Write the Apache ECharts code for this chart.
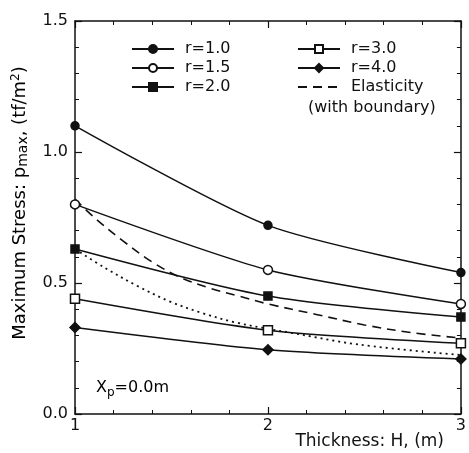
<!DOCTYPE html>
<html>
<head>
<meta charset="utf-8">
<script src="https://cdn.jsdelivr.net/npm/echarts@6/dist/echarts.min.js"></script>
<style>
  html, body { margin: 0; padding: 0; background: #fff; }
  #chart { width: 469px; height: 453px; }
</style>
</head>
<body>
<div id="chart"></div>
<script>
// Thickness H (m) at which each case was computed
const thickness = [1, 2, 3];

// Maximum stress p_max (tf/m^2) for each ratio r
const r10 = [1.10, 0.72, 0.54];
const r15 = [0.80, 0.55, 0.42];
const r20 = [0.63, 0.45, 0.37];
const r30 = [0.44, 0.32, 0.27];
const r40 = [0.33, 0.245, 0.21];

// Elastic solution with boundary (dashed curve)
const elasH = [1.0, 1.1, 1.25, 1.4, 1.55, 1.7, 1.85, 2.0, 2.25, 2.5, 2.75, 3.0];
const elasP = [0.82, 0.75, 0.66, 0.58, 0.52, 0.48, 0.45, 0.42, 0.38, 0.34, 0.31, 0.29];

// Dotted curve
const dotH = [1.0, 1.15, 1.32, 1.49, 1.66, 1.83, 2.0, 2.12, 2.47, 3.0];
const dotP = [0.63, 0.56, 0.49, 0.43, 0.385, 0.35, 0.325, 0.31, 0.265, 0.225];

// Axis tick values
const xTicks = [1, 2, 3];
const yTicks = [0.0, 0.5, 1.0, 1.5];

const pairs = (xs, ys) => xs.map((x, i) => [x, ys[i]]);

const FONT = 'DejaVu Sans';
const INK = '#111';

const chart = echarts.init(document.getElementById('chart'), null, { renderer: 'canvas' });

const lineBase = {
  type: 'line',
  smooth: 0.25,
  lineStyle: { color: INK, width: 1.5 },
  itemStyle: { color: INK, borderColor: INK, borderWidth: 1.5 },
  z: 3
};

const axisCommon = {
  type: 'value',
  axisLine: { show: true, onZero: false, lineStyle: { color: INK, width: 1.5 } },
  axisTick: { show: true, inside: true, length: 7, lineStyle: { color: INK, width: 1.2 } },
  minorTick: { show: true, splitNumber: 5, length: 4, lineStyle: { color: INK, width: 1 } },
  splitLine: { show: false }
};

const legendText = { fontFamily: FONT, fontSize: 16, color: INK, padding: [0, 0, 0, 6] };

chart.setOption({
  animation: false,
  backgroundColor: '#fff',
  textStyle: { fontFamily: FONT, color: INK },
  grid: { left: 75, right: 4, top: 21, bottom: 39 },
  xAxis: [
    Object.assign({}, axisCommon, {
      position: 'bottom',
      min: xTicks[0], max: xTicks[xTicks.length - 1], interval: 1,
      axisLabel: { show: true, fontFamily: FONT, fontSize: 16, color: INK, margin: 4,
                   formatter: v => xTicks.includes(v) ? String(v) : '' }
    }),
    Object.assign({}, axisCommon, {
      position: 'top',
      min: xTicks[0], max: xTicks[xTicks.length - 1], interval: 1,
      axisLabel: { show: false }
    })
  ],
  yAxis: [
    Object.assign({}, axisCommon, {
      position: 'left',
      min: yTicks[0], max: yTicks[yTicks.length - 1], interval: 0.5,
      axisLabel: { show: true, fontFamily: FONT, fontSize: 16, color: INK, margin: 7,
                   formatter: v => v.toFixed(1) }
    }),
    Object.assign({}, axisCommon, {
      position: 'right',
      min: yTicks[0], max: yTicks[yTicks.length - 1], interval: 0.5,
      axisLabel: { show: false }
    })
  ],
  legend: [
    {
      data: ['r=1.0', 'r=1.5', 'r=2.0'],
      orient: 'vertical',
      left: 126, top: 36,
      itemWidth: 42, itemHeight: 10, itemGap: 3,
      textStyle: legendText
    },
    {
      data: ['r=3.0', 'r=4.0', {
        name: 'Elasticity',
        itemStyle: { color: 'rgba(0,0,0,0)', borderColor: 'rgba(0,0,0,0)' }
      }],
      orient: 'vertical',
      left: 292, top: 36,
      itemWidth: 42, itemHeight: 10, itemGap: 3,
      textStyle: legendText
    }
  ],
  graphic: [
    {
      type: 'text', x: 308, y: 108,
      style: { text: '(with boundary)', font: '16px "DejaVu Sans"', fill: INK,
               verticalAlign: 'middle' }
    },
    {
      type: 'text', x: 96, y: 388,
      style: {
        text: '{a|X}{s|p}{a|=0.0m}',
        verticalAlign: 'middle',
        rich: {
          a: { fontFamily: FONT, fontSize: 16, color: INK },
          s: { fontFamily: FONT, fontSize: 12, color: INK, padding: [9, 0, 0, 0] }
        }
      }
    },
    {
      type: 'text', x: 444, y: 442,
      style: { text: 'Thickness: H, (m)', font: '17px "DejaVu Sans"', fill: INK,
               align: 'right', verticalAlign: 'middle' }
    },
    {
      type: 'text', x: 20, y: 203, rotation: Math.PI / 2,
      style: {
        text: '{a|Maximum Stress: p}{s|max}{a|, (tf/m}{u|2}{a|)}',
        align: 'center', verticalAlign: 'middle',
        rich: {
          a: { fontFamily: FONT, fontSize: 18, color: INK },
          s: { fontFamily: FONT, fontSize: 14, color: INK, padding: [7, 0, 0, 0] },
          u: { fontFamily: FONT, fontSize: 12, color: INK, padding: [0, 0, 9, 0] }
        }
      }
    }
  ],
  series: [
    Object.assign({}, lineBase, {
      name: 'r=1.0', data: pairs(thickness, r10),
      symbol: 'circle', symbolSize: 8
    }),
    Object.assign({}, lineBase, {
      name: 'r=1.5', data: pairs(thickness, r15),
      symbol: 'circle', symbolSize: 9,
      itemStyle: { color: '#fff', borderColor: INK, borderWidth: 1.5 }
    }),
    Object.assign({}, lineBase, {
      name: 'r=2.0', data: pairs(thickness, r20),
      symbol: 'rect', symbolSize: 8
    }),
    Object.assign({}, lineBase, {
      name: 'r=3.0', data: pairs(thickness, r30),
      symbol: 'rect', symbolSize: 9,
      itemStyle: { color: '#fff', borderColor: INK, borderWidth: 1.5 }
    }),
    Object.assign({}, lineBase, {
      name: 'r=4.0', data: pairs(thickness, r40),
      symbol: 'diamond', symbolSize: 10
    }),
    Object.assign({}, lineBase, {
      name: 'Elasticity', data: pairs(elasH, elasP),
      smooth: 0.35, showSymbol: false, symbol: 'none',
      lineStyle: { color: INK, width: 1.6, type: [9, 6] }
    }),
    Object.assign({}, lineBase, {
      name: 'dotted', data: pairs(dotH, dotP),
      smooth: 0.35, showSymbol: false, symbol: 'none',
      lineStyle: { color: INK, width: 1.8, type: [2, 4] }
    })
  ]
});
</script>
</body>
</html>
